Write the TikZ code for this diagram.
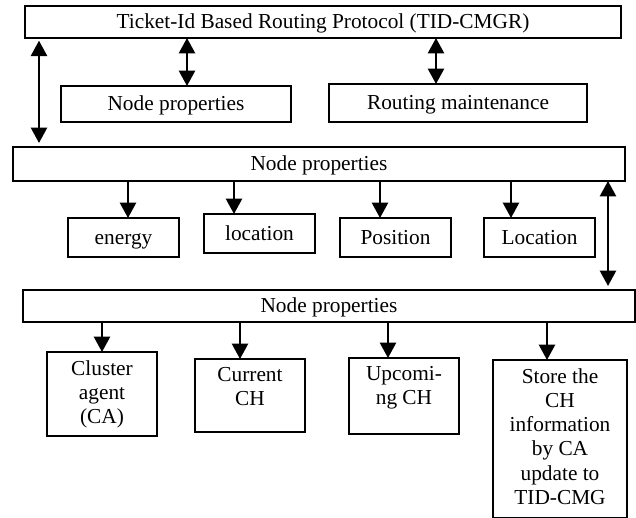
\documentclass[tikz,border=0pt]{standalone}
\usepackage{fontspec}
\setmainfont{Liberation Serif}
\usepackage{tikz}
\usetikzlibrary{positioning, arrows.meta}

\begin{document}
\begin{tikzpicture}[x=0.75pt, y=-0.75pt,
    font=\fontsize{16}{18.2}\selectfont,
    box/.style={draw, line width=0.9pt, inner sep=0pt, outer sep=0pt, text height=13pt, text depth=3pt},
    tallbox/.style={draw, line width=0.9pt, inner sep=0pt, outer sep=0pt, anchor=north},
    intext/.style={anchor=north, align=center, inner sep=0pt, yshift=-6pt},
    arr/.style={line width=1.8pt, -{Triangle[width=12pt, length=11.5pt]}},
    dbl/.style={line width=1.8pt, {Triangle[width=12pt, length=11.5pt]}-{Triangle[width=12pt, length=11.5pt]}}]
    \useasboundingbox (0,0) rectangle (636,518);

    % Protocol and its two parts
    \node[box, minimum width=447pt, minimum height=24pt] (tid) at (323,22) {Ticket-Id Based Routing Protocol (TID-CMGR)};
    \node[box, minimum width=172.5pt, minimum height=27pt] (np) at (176,104) {Node properties};
    \node[box, minimum width=193.5pt, minimum height=28.5pt] (rm) at (458,103) {Routing maintenance};

    % Second level
    \node[box, minimum width=459pt, minimum height=25.5pt] (mid) at (319,164) {Node properties};
    \node[box, minimum width=83.25pt, minimum height=29.25pt] (en) at (123.5,237.5) {energy};
    \node[box, minimum width=83.25pt, minimum height=29.25pt] (lo) at (259.5,233.5) {location};
    \node[box, minimum width=83.25pt, minimum height=29.25pt] (po) at (395.5,237.5) {Position};
    \node[box, minimum width=83.25pt, minimum height=29.25pt] (Lo) at (539.5,237.5) {Location};

    % Third level
    \node[box, minimum width=459pt, minimum height=24pt] (low) at (329,306) {Node properties};
    \node[tallbox, minimum width=82.5pt, minimum height=63pt] (ca) at (102,352) {};
    \node[tallbox, minimum width=82.5pt, minimum height=54.75pt] (cur) at (250,359) {};
    \node[tallbox, minimum width=82.5pt, minimum height=57pt] (up) at (404,358) {};
    \node[tallbox, minimum width=100.5pt, minimum height=118pt] (st) at (560,360) {};
    \node[intext] (caT) at (ca.north) {Cluster\\agent\\(CA)};
    \node[intext] (curT) at (cur.north) {Current\\CH};
    \node[intext] (upT) at (up.north) {Upcomi-\\ng CH};
    \node[intext] (stT) at (st.north) {Store the\\CH\\information\\by CA\\update to\\TID-CMG};

    % Links between levels
    \draw[dbl] (tid.south -| 187,0) -- (np.north -| 187,0);
    \draw[dbl] (tid.south -| 436,0) -- (rm.north -| 436,0);
    \draw[dbl, shorten <=2pt, shorten >=3pt] (tid.south -| 39,0) -- (mid.north -| 39,0);
    \draw[dbl, shorten >=3pt] (mid.south -| 608,0) -- (low.north -| 608,0);

    \foreach \k/\x in {en/128, lo/234, po/380, Lo/511}
        \draw[arr] (mid.south -| \x,0) -- (\k.north -| \x,0);
    \foreach \k/\x in {ca/102, cur/240, up/388, st/547}
        \draw[arr] (low.south -| \x,0) -- (\k.north -| \x,0);
\end{tikzpicture}
\end{document}
